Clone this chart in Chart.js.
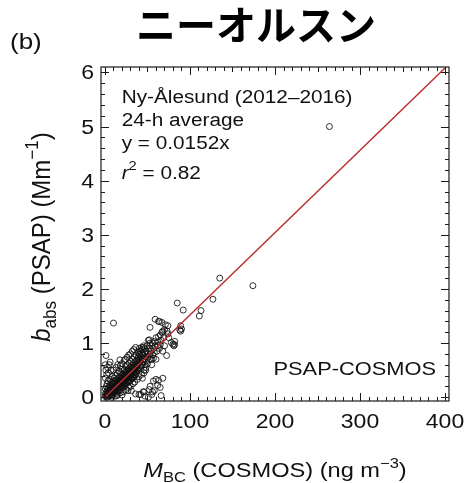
<!DOCTYPE html>
<html><head><meta charset="utf-8">
<script src="https://cdn.jsdelivr.net/npm/chart.js@4/dist/chart.umd.min.js"></script>
<style>html,body{margin:0;padding:0;background:#fff;}#wrap{width:465px;height:483px;}</style>
</head><body><div id="wrap"><canvas id="c" width="465" height="483"></canvas></div>
<script>
const titleText = 'ニーオルスン';
const panelLabel = '(b)';
const xTicks = [0, 100, 200, 300, 400];
const yTicks = [0, 1, 2, 3, 4, 5, 6];
const xMinorStep = 10;
const yMinorStep = 0.2;
const fitSlope = 0.0152;
const fitX = [0, 400];
const annotLines = ['Ny-Ålesund (2012–2016)', '24-h average', 'y = 0.0152x'];
const r2Value = '0.82';
const corner = 'PSAP-COSMOS';

// [M_BC (ng m-3), b_abs (Mm-1)]
const scatterPoints = [
[0.5,0.01],[0.5,0.06],[0.5,0.15],[1.5,0.02],[1.5,0.09],[1.5,0.2],[2.5,0.0],[2.5,0.05],[2.5,0.12],[2.5,0.25],
[3.5,0.03],[3.5,0.08],[3.5,0.16],[3.5,0.3],[4.5,0.02],[4.5,0.1],[4.5,0.18],[5.5,0.04],[5.5,0.12],[5.5,0.22],[5.5,0.33],
[6.5,0.06],[6.5,0.14],[6.5,0.2],[7.5,0.03],[7.5,0.1],[7.5,0.17],[7.5,0.27],[8.5,0.08],[8.5,0.15],[8.5,0.24],[8.5,0.38],
[9.5,0.05],[9.5,0.12],[9.5,0.19],[9.5,0.3],[10.5,0.1],[10.5,0.16],[10.5,0.23],[10.5,0.35],[11.5,0.07],[11.5,0.14],[11.5,0.21],[11.5,0.28],
[12.5,0.12],[12.5,0.18],[12.5,0.26],[12.5,0.4],[13.5,0.1],[13.5,0.2],[13.5,0.24],[13.5,0.32],[14.5,0.15],[14.5,0.22],[14.5,0.29],[14.5,0.44],
[15.5,0.12],[15.5,0.2],[15.5,0.27],[15.5,0.36],[16.5,0.18],[16.5,0.25],[16.5,0.31],[16.5,0.48],[17.5,0.14],[17.5,0.23],[17.5,0.29],[17.5,0.38],
[18.5,0.2],[18.5,0.27],[18.5,0.34],[18.5,0.45],[19.5,0.17],[19.5,0.25],[19.5,0.31],[19.5,0.4],[20.5,0.22],[20.5,0.3],[20.5,0.36],[20.5,0.52],
[21.5,0.19],[21.5,0.28],[21.5,0.34],[21.5,0.43],[22.5,0.25],[22.5,0.32],[22.5,0.39],[22.5,0.5],[23.5,0.22],[23.5,0.3],[23.5,0.37],[23.5,0.46],
[24.5,0.27],[24.5,0.35],[24.5,0.42],[24.5,0.57],[25.5,0.25],[25.5,0.33],[25.5,0.4],[25.5,0.49],[26.5,0.3],[26.5,0.38],[26.5,0.45],[26.5,0.6],
[27.5,0.28],[27.5,0.36],[27.5,0.43],[27.5,0.52],[28.5,0.33],[28.5,0.41],[28.5,0.48],[28.5,0.63],[29.5,0.3],[29.5,0.39],[29.5,0.46],[29.5,0.55],
[30.5,0.36],[30.5,0.44],[30.5,0.51],[30.5,0.66],[31.5,0.34],[31.5,0.42],[31.5,0.49],[31.5,0.58],[32.5,0.38],[32.5,0.47],[32.5,0.54],[32.5,0.7],
[33.5,0.36],[33.5,0.45],[33.5,0.52],[33.5,0.62],[34.5,0.41],[34.5,0.5],[34.5,0.57],[34.5,0.74],[35.5,0.4],[35.5,0.48],[35.5,0.56],[35.5,0.66],
[36.5,0.44],[36.5,0.53],[36.5,0.6],[36.5,0.78],[37.5,0.47],[37.5,0.57],[37.5,0.68],[38.5,0.5],[38.5,0.6],[38.5,0.72],[38.5,0.84],
[39.5,0.52],[39.5,0.63],[39.5,0.75],[40.5,0.55],[40.5,0.66],[40.5,0.8],[40.5,0.9],[42,0.58],[42,0.7],[42,0.85],[43.5,0.6],[43.5,0.73],[43.5,0.88],
[45,0.65],[45,0.78],[45,0.92],
[0.5,0.35],[1,0.5],[0.3,0.6],[1.2,0.77],[2,0.42],[3,0.55],[4,0.45],[5,0.6],[6,0.65],[7,0.5],[17.6,0.69],[22.7,0.68],
[10,0.5],[13,0.55],[15,0.6],[18,0.58],[20,0.62],[24,0.7],[26,0.74],[28,0.78],[30,0.8],[32,0.85],[34,0.88],[36,0.92],[41,0.79],[51,1.05],
[12,0.02],[15,0.05],[18,0.08],[22,0.1],[25,0.14],[28,0.18],[30,0.2],[33,0.25],[35,0.28],[38,0.33],[40,0.38],[43,0.42],[46,0.5],[48,0.55],
[8,0.0],[14,0.03],[20,0.04],[27,0.12],[31,0.12],[36,0.06],[40,0.05],[46,0.1],[52,0.14],[55,0.05],[58,0.12],[66,0.03],[47,0.02],[51,0.0],[42,0.05],[45,0.1],
[44,0.35],[46,0.45],[48,0.5],[50,0.62],[53,0.2],[56,0.1],[62,0.22],[65,0.18],[57,0.3],[60,0.33],[63,0.31],[68,0.35],[49,0.68],[47,0.6],
[46,0.7],[46.5,0.82],[47,0.9],[48,0.75],[48.5,0.85],[49.5,0.95],[50,0.8],[44,0.8],[44.5,0.66],[45.5,0.95],[43,0.92],[42,0.68],
[51,0.74],[52,0.9],[52,1.06],[53,0.8],[53,1.0],[53,1.29],[54,0.85],[55,0.7],[55,0.95],[55,0.6],[56,1.0],[56,0.78],[57,0.9],[57,0.72],
[58,0.82],[58,1.03],[59,0.95],[59,1.44],[60,0.7],[60,1.1],[61,0.85],[62,1.02],[62,0.95],[63,1.4],[63,1.12],[64,1.4],[64,0.9],
[65,1.15],[65,0.97],[66,1.05],[67,1.38],[67,1.2],[68,1.22],[68,0.85],[69,1.1],[70,1.25],[70,0.95],[71,1.34],[72.5,0.77],[73,1.22],
[74,1.32],[74,1.17],[75,1.1],[53,0.7],[10,1.37],
[78,1.01],[80,0.98],[81,0.95],[82,1.03],[82,0.97],[85,1.74],[88,1.24],[89,1.32],[89,1.22],[90,1.26],[92,1.61],
[111,1.5],[113,1.6],[127,1.81],[135,2.2],[174,2.06],[264,5.0]
];

const FONT = "'Liberation Sans', Arial, Helvetica, sans-serif";
const SX = 1.18; // horizontal stretch of the original figure

function richWidth(ctx, parts) {
  let w = 0;
  for (const p of parts) { ctx.font = (p.it ? 'italic ' : '') + p.s + 'px ' + FONT; w += ctx.measureText(p.t).width; }
  return w;
}
function drawRich(ctx, parts, x, y, align, sx, sy) {
  ctx.save();
  ctx.translate(x, y);
  ctx.scale(sx, sy);
  const w = richWidth(ctx, parts);
  let cx = align === 'center' ? -w / 2 : (align === 'right' ? -w : 0);
  ctx.textAlign = 'left';
  ctx.textBaseline = 'alphabetic';
  for (const p of parts) {
    ctx.font = (p.it ? 'italic ' : '') + p.s + 'px ' + FONT;
    ctx.fillText(p.t, cx, p.dy || 0);
    cx += ctx.measureText(p.t).width;
  }
  ctx.restore();
}

const framePlugin = {
  id: 'frame',
  afterDatasetsDraw(chart) {
    const ctx = chart.ctx, a = chart.chartArea;
    const xs = chart.scales.x, ys = chart.scales.y;
    ctx.save();
    ctx.strokeStyle = '#1a1a1a';
    ctx.lineWidth = 1.2;
    ctx.strokeRect(a.left, a.top, a.right - a.left, a.bottom - a.top);
    ctx.lineWidth = 1;
    ctx.beginPath();
    for (let v = 0; v <= 400 + 1e-6; v += xMinorStep) {
      const px = Math.round(xs.getPixelForValue(v)) + 0.5;
      const major = xTicks.includes(Math.round(v));
      const len = major ? 8 : (Math.round(v) % 50 === 0 ? 5 : 4);
      ctx.moveTo(px, a.bottom); ctx.lineTo(px, a.bottom - len);
      ctx.moveTo(px, a.top); ctx.lineTo(px, a.top + len);
    }
    for (let i = 0; i <= 30; i++) {
      const v = i * yMinorStep;
      const py = Math.round(ys.getPixelForValue(v)) + 0.5;
      const major = i % 5 === 0;
      const len = major ? 8 : 4;
      ctx.moveTo(a.left, py); ctx.lineTo(a.left + len, py);
      ctx.moveTo(a.right, py); ctx.lineTo(a.right - len, py);
    }
    ctx.stroke();
    ctx.restore();
  },
  afterDraw(chart) {
    const ctx = chart.ctx, a = chart.chartArea;
    const xs = chart.scales.x, ys = chart.scales.y;
    ctx.save();
    ctx.fillStyle = '#111';
    for (const v of xTicks) {
      drawRich(ctx, [{t: String(v), s: 19.5}], xs.getPixelForValue(v), 428, 'center', SX, 1);
    }
    for (const v of yTicks) {
      drawRich(ctx, [{t: String(v), s: 19.5}], a.left - 7, ys.getPixelForValue(v) + 7, 'right', SX, 1);
    }
    drawRich(ctx, [{t: panelLabel, s: 22}], 10, 49, 'left', SX, 1);
    const ax = 121.7;
    const base = [103, 126, 149];
    annotLines.forEach((t, i) => drawRich(ctx, [{t, s: 17.6}], ax, base[i], 'left', SX, 1));
    drawRich(ctx, [{t: 'r', s: 17.6, it: true}, {t: '2', s: 12.5, dy: -9}, {t: ' = ' + r2Value, s: 17.6}], ax, 179, 'left', SX, 1);
    drawRich(ctx, [{t: corner, s: 18.5}], 436, 375, 'right', SX, 1);
    drawRich(ctx, [{t: 'M', s: 20, it: true}, {t: 'BC', s: 14, dy: 5}, {t: ' (COSMOS) (ng m', s: 20}, {t: '−3', s: 14, dy: -9}, {t: ')', s: 20}],
      (a.left + a.right) / 2, 477, 'center', SX, 1);
    ctx.save();
    ctx.translate(50, 237);
    ctx.rotate(-Math.PI / 2);
    drawRich(ctx, [{t: 'b', s: 24, it: true}, {t: 'abs', s: 17, dy: 6}, {t: ' (PSAP) (Mm', s: 24}, {t: '−1', s: 17, dy: -11}, {t: ')', s: 24}],
      0, 0, 'center', 1, 1.05);
    ctx.restore();
    ctx.restore();
  }
};

new Chart(document.getElementById('c'), {
  type: 'scatter',
  data: {
    datasets: [
      {
        type: 'line',
        data: fitX.map(x => ({x, y: fitSlope * x})),
        borderColor: '#b8302f', borderWidth: 1.5, pointRadius: 0, fill: false, tension: 0
      },
      {
        data: scatterPoints.map(([x, y]) => ({x, y})),
        pointStyle: 'circle', pointRadius: 3, borderWidth: 1,
        borderColor: 'rgba(15,15,15,0.85)', backgroundColor: 'rgba(0,0,0,0)'
      }
    ]
  },
  options: {
    responsive: false, animation: false, devicePixelRatio: 1,
    layout: {padding: {left: 63, right: 16, top: 0, bottom: 0}},
    plugins: {
      legend: {display: false}, tooltip: {enabled: false},
      title: {display: true, text: titleText, color: '#000',
        font: {family: "'Noto Sans CJK JP'", size: 40, weight: 'bold'},
        padding: {top: 1, bottom: 18}}
    },
    scales: {
      x: {type: 'linear', min: -4.7, max: 404.7, ticks: {display: false}, grid: {display: false}, border: {display: false},
          afterFit(s) { s.height = 82; }},
      y: {type: 'linear', min: -0.07, max: 6.1, ticks: {display: false}, grid: {display: false}, border: {display: false},
          afterFit(s) { s.width = 38; }}
    }
  },
  plugins: [framePlugin]
});
</script>
</body></html>
